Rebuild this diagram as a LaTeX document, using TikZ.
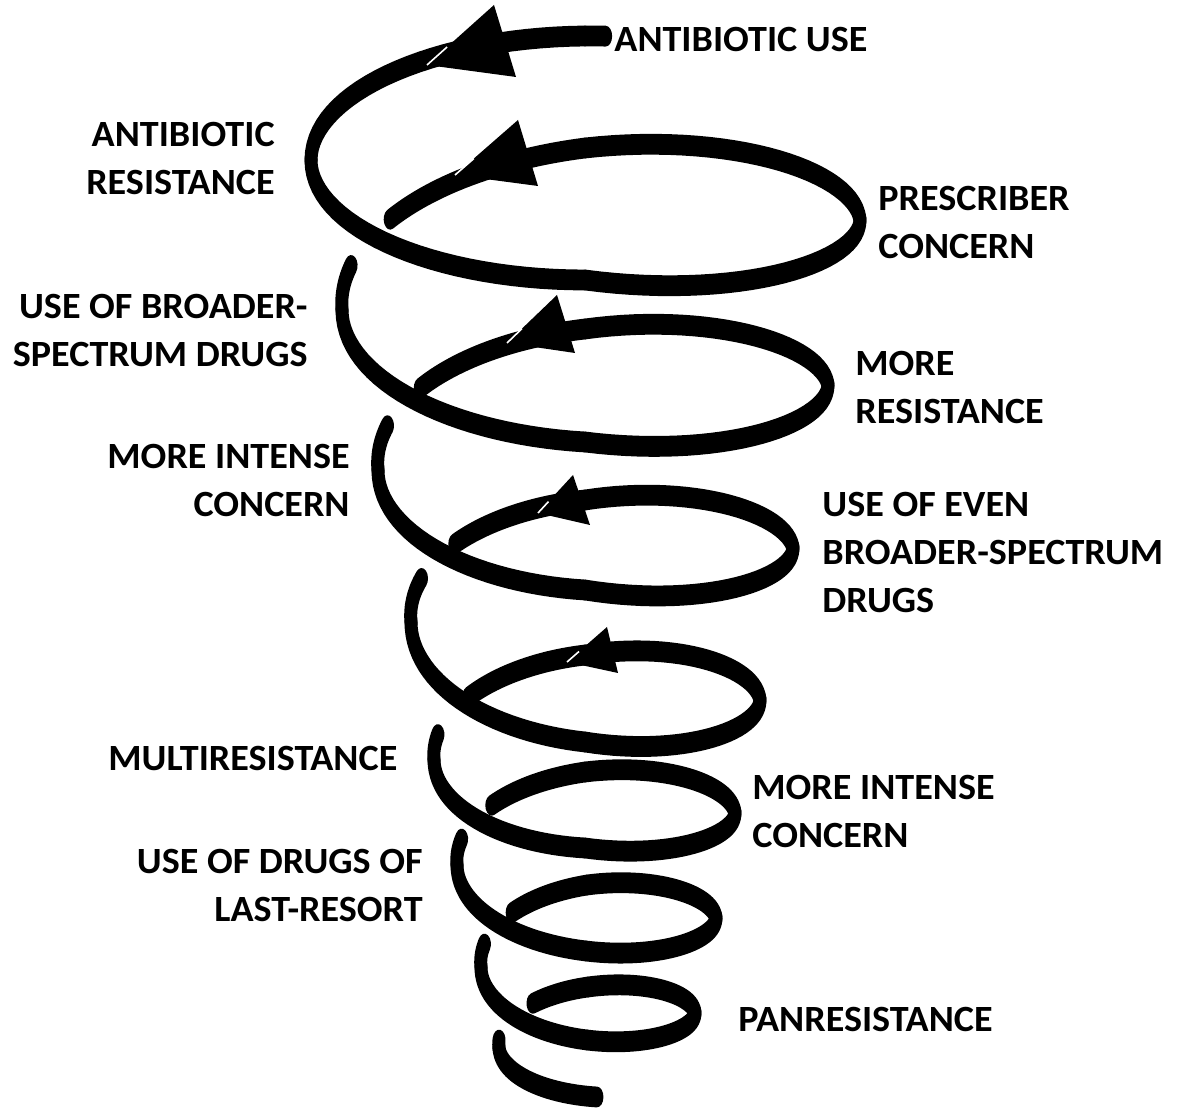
\documentclass[tikz,border=0pt]{standalone}
\usepackage{fontspec}
\setmainfont{Carlito}[FakeStretch=1.03]
\usetikzlibrary{calc}
\def\spR{{274,274,274,274,274,275,275,260,243,243,243,225,207,208,208,190,174,175,175,163,151,150,150,139,128,129,130,118,106,107,108,100,93,92}}
\def\spY{{148,150,152,156,160,160,220,263,310,335,385,432,470,493,548,593,622,654,700,737,760,778,813,837,865,891,918,940,967,990,1013,1032,1048,1060}}
\def\spB{{120,120,120,120,120,120,118,115,110,107,105,103,100,97,95,93,90,88,86,82,75,70,68,65,62,60,58,55,52,50,48,45,40,37}}
\def\spC{{585,585,585,585,585,585,585,585,585,585,585,585,585,585,585,585,585,585,585,585,585,585,585,585,585,586,586,587,587,587,587,588,592,597}}
\begin{document}
\begin{tikzpicture}[x=0.5pt,y=-0.5pt,
  lbl/.style={inner sep=0pt, font=\fontsize{18.5}{24}\selectfont\bfseries},
  spiral/.style={line width=6.5pt, line cap=round, line join=round},
  tip/.style={fill=black},
  glint/.style={draw=white, line width=0.8pt}]
\useasboundingbox[fill=white] (0,0) rectangle (1188,1111);
\begin{scope}[transform canvas={yscale=1.6}]
\foreach \q/\sa/\sb in {2/0.952/1, 3/0/1, 4/0/1, 5/0/1, 6/0/1, 7/0/0.568, 7/0.796/1,
  8/0/1, 9/0/1, 10/0/1, 11/0/0.556, 11/0.77/1,
  12/0/1, 13/0/1, 14/0/1, 15/0/0.508, 15/0.74/1,
  16/0/1, 17/0/1, 18/0/1, 19/0/0.532, 19/0.82/1,
  20/0/1, 21/0/1, 22/0/1, 23/0/0.492, 23/0.792/1,
  24/0/1, 25/0/1, 26/0/1, 27/0/0.464, 27/0.788/1,
  28/0/1, 29/0/1, 30/0/1, 31/0/0.396, 31/0.9/1,
  32/0/1}{
  \pgfmathsetmacro\Ra{\spR[\q]}\pgfmathsetmacro\Rb{\spR[\q+1]}
  \pgfmathsetmacro\Ya{\spY[\q]}\pgfmathsetmacro\Yb{\spY[\q+1]}
  \pgfmathsetmacro\Ba{\spB[\q]}\pgfmathsetmacro\Bb{\spB[\q+1]}
  \pgfmathsetmacro\Ca{\spC[\q]}\pgfmathsetmacro\Cb{\spC[\q+1]}
  \draw[spiral] plot[domain=\sa:\sb, samples=30, variable=\s]
    ({\Ca+(\Cb-\Ca)*\s-(\Ra+(\Rb-\Ra)*\s)*cos(90*(\q+\s))},
     {(\Ya+(\Yb-\Ya)*\s+(\Ba+(\Bb-\Ba)*\s)*sin(90*(\q+\s)))/1.6});
}
\end{scope}
% arrowheads
\coordinate (a1t) at (494,5);   \coordinate (a1b) at (516,77);  \coordinate (a1p) at (427,65);
\coordinate (a2t) at (518,120); \coordinate (a2b) at (538,186); \coordinate (a2p) at (455,175);
\coordinate (a3t) at (557,295); \coordinate (a3b) at (575,353); \coordinate (a3p) at (507,343);
\coordinate (a4t) at (573,475); \coordinate (a4b) at (590,525); \coordinate (a4p) at (538,513);
\coordinate (a5t) at (607,627); \coordinate (a5b) at (618,673); \coordinate (a5p) at (567,662);
\foreach \i in {1,...,5}{
  \fill[tip] (a\i t) -- (a\i b) -- (a\i p) -- cycle;
  \draw[glint] (a\i p) -- ($(a\i p)!0.3!(a\i t)$);
}
% labels
\node[lbl, anchor=north west] (use) at (614,27) {ANTIBIOTIC USE};
\node[lbl, anchor=north east, align=right] (res) at (275,122) {ANTIBIOTIC\\RESISTANCE};
\node[lbl, anchor=north west, align=left] (presc) at (878,186) {PRESCRIBER\\CONCERN};
\node[lbl, anchor=north east, align=right] (broad) at (308,294) {USE OF BROADER-\\SPECTRUM DRUGS};
\node[lbl, anchor=north west, align=left] (mres) at (855,351) {MORE\\RESISTANCE};
\node[lbl, anchor=north east, align=right] (mic1) at (350,444) {MORE INTENSE\\CONCERN};
\node[lbl, anchor=north west, align=left] (even) at (822,492) {USE OF EVEN\\BROADER-SPECTRUM\\DRUGS};
\node[lbl, anchor=north west] (multi) at (108,746) {MULTIRESISTANCE};
\node[lbl, anchor=north west, align=left] (mic2) at (752,775) {MORE INTENSE\\CONCERN};
\node[lbl, anchor=north east, align=right] (last) at (423,849) {USE OF DRUGS OF\\LAST-RESORT};
\node[lbl, anchor=north west] (pan) at (738,1007) {PANRESISTANCE};
\end{tikzpicture}
\end{document}
